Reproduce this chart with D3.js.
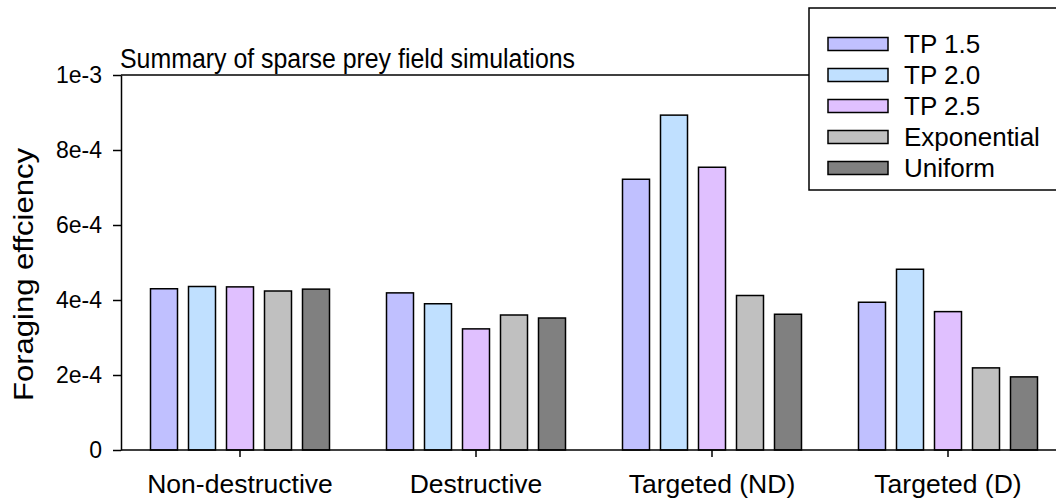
<!DOCTYPE html>
<html>
<head>
<meta charset="utf-8">
<script src="https://cdn.jsdelivr.net/npm/d3@7"></script>
<style>
  body { margin: 0; background: #fff; }
  svg { display: block; font-family: "Liberation Sans", Arial, sans-serif; }
</style>
</head>
<body>
<div id="chart"></div>
<script>
"use strict";

// data
var categories = ["Non-destructive", "Destructive", "Targeted (ND)", "Targeted (D)"];
var series = ["TP 1.5", "TP 2.0", "TP 2.5", "Exponential", "Uniform"];
var tp15 = [4.30e-4, 4.19e-4, 7.22e-4, 3.94e-4];
var tp20 = [4.36e-4, 3.90e-4, 8.93e-4, 4.82e-4];
var tp25 = [4.35e-4, 3.23e-4, 7.54e-4, 3.69e-4];
var expo = [4.24e-4, 3.60e-4, 4.12e-4, 2.19e-4];
var unif = [4.29e-4, 3.52e-4, 3.62e-4, 1.95e-4];
var yTicks = [0, 2e-4, 4e-4, 6e-4, 8e-4, 1e-3];
var yTickLabels = ["0", "2e-4", "4e-4", "6e-4", "8e-4", "1e-3"];
var colors = ["#c0c0ff", "#c0e0ff", "#e0c0ff", "#c0c0c0", "#808080"];

var values = [tp15, tp20, tp25, expo, unif];

var width = 1056, height = 501;
var plot_left = 121, plot_right = 1065, plot_top = 75, plot_bottom = 450;

var svg = d3.select("#chart")
    .append("svg")
    .attr("width", width)
    .attr("height", height);

var x0 = d3.scaleBand()
    .domain(categories)
    .range([plot_left + 1, plot_right + 1]);

var x1 = d3.scaleBand()
    .domain(series)
    .range([23, 213])
    .paddingInner(11 / 38)
    .paddingOuter(11 / 76);

var y = d3.scaleLinear()
    .domain([0, 1e-3])
    .range([plot_bottom, plot_top]);

// bars
series.forEach(function(s, si) {
    svg.append("g")
        .selectAll("rect")
        .data(values[si])
        .enter()
        .append("rect")
        .attr("x", function(d, i) { return x0(categories[i]) + x1(s); })
        .attr("y", function(d) { return y(d); })
        .attr("width", x1.bandwidth())
        .attr("height", function(d) { return y(0) - y(d); })
        .attr("fill", colors[si])
        .attr("stroke", "#000")
        .attr("stroke-width", 1.5);
});

// top frame line
svg.append("line")
    .attr("x1", plot_left).attr("x2", plot_right)
    .attr("y1", plot_top).attr("y2", plot_top)
    .attr("stroke", "#000")
    .attr("stroke-width", 1.5);

// y axis
var yAxis = svg.append("g")
    .attr("transform", "translate(" + plot_left + ",0)")
    .call(d3.axisLeft(y)
        .tickValues(yTicks)
        .tickFormat(function(d, i) { return yTickLabels[i]; })
        .tickSize(8)
        .tickSizeOuter(0)
        .tickPadding(11));
yAxis.selectAll("path, line").attr("stroke", "#000").attr("stroke-width", 1.5);
yAxis.selectAll("text")
    .attr("fill", "#000")
    .style("font-size", "23px")
    .style("font-family", "Liberation Sans, Arial, sans-serif");

// x axis
var xAxis = svg.append("g")
    .attr("transform", "translate(0," + plot_bottom + ")")
    .call(d3.axisBottom(x0)
        .tickSize(7)
        .tickSizeOuter(0)
        .tickPadding(17));
xAxis.selectAll("path, line").attr("stroke", "#000").attr("stroke-width", 1.5);
xAxis.selectAll("text")
    .attr("fill", "#000")
    .style("font-size", "26.5px")
    .style("font-family", "Liberation Sans, Arial, sans-serif");
xAxis.select(".domain").attr("d", "M" + plot_left + ",0H" + plot_right);

// title
svg.append("text")
    .attr("x", 120)
    .attr("y", 68)
    .attr("textLength", 455)
    .attr("lengthAdjust", "spacingAndGlyphs")
    .style("font-size", "27px")
    .text("Summary of sparse prey field simulations");

// y label (stretched along its length like the source image)
svg.append("text")
    .attr("transform", "translate(33," + ((148 + 401) / 2) + ") rotate(-90)")
    .attr("text-anchor", "middle")
    .attr("textLength", 253)
    .attr("lengthAdjust", "spacingAndGlyphs")
    .style("font-size", "27px")
    .text("Foraging effciency");

// legend
var legend = svg.append("g");
legend.append("rect")
    .attr("x", 809).attr("y", 8)
    .attr("width", 260).attr("height", 182)
    .attr("fill", "#fff")
    .attr("stroke", "#000")
    .attr("stroke-width", 1.5);

var legendY = d3.scalePoint()
    .domain(series)
    .range([44, 168]);

series.forEach(function(s, si) {
    legend.append("rect")
        .attr("x", 828)
        .attr("y", legendY(s) - 6.5)
        .attr("width", 60)
        .attr("height", 13)
        .attr("fill", colors[si])
        .attr("stroke", "#000")
        .attr("stroke-width", 1.5);
    legend.append("text")
        .attr("x", 904)
        .attr("y", legendY(s))
        .attr("dy", "0.35em")
        .style("font-size", "26px")
        .text(s);
});
</script>
</body>
</html>
